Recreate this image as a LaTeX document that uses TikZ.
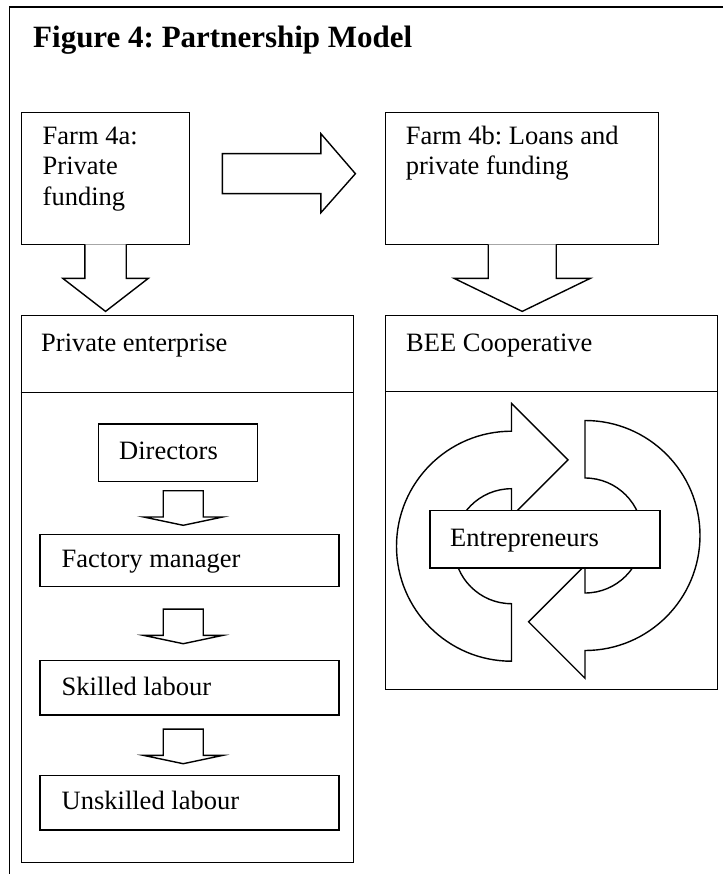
\documentclass[tikz,border=0pt]{standalone}
\usepackage{fontspec}
\setmainfont{Liberation Serif}
\frenchspacing
\usetikzlibrary{positioning, calc}

\tikzset{
  box/.style={draw, line width=1.4pt, fill=white, inner sep=0pt, anchor=north west},
  lbl/.style={inner sep=0pt, anchor=base west, align=left, font=\fontsize{26.5}{30.5}\selectfont},
  blockarrow/.style={draw, line width=1.4pt, fill=white, line join=miter},
}

\begin{document}
\begin{tikzpicture}[x=1pt, y=-1pt]
\useasboundingbox (0,0) rectangle (723,874);
% frame and title
\draw[line width=1.4pt] (723,7) -- (9.3,7) -- (9.3,874);
\node[inner sep=0pt, anchor=base west, font=\fontsize{31}{36}\selectfont\bfseries] (title) at (33,48) {Figure 4: Partnership Model};

% farms
\node[box, minimum width=168.3pt, minimum height=132.3pt] (farmA) at (20.7,111.7) {};
\node[box, minimum width=273pt, minimum height=132.3pt] (farmB) at (385,111.7) {};
% base of a multi-line label is its last line
\node[lbl] (farmAtxt) at (42.5,205.3) {Farm 4a:\\Private\\funding};
\node[lbl] (farmBtxt) at (405.7,174.8) {Farm 4b: Loans and\\private funding};

% the two enterprises
\node[box, minimum width=332pt, minimum height=546.7pt] (priv) at (20.7,315) {};
\node[box, minimum width=332pt, minimum height=374pt] (bee) at (385,315) {};
\draw[line width=1.4pt] ([yshift=-77.7pt]priv.north west) -- ([yshift=-77.7pt]priv.north east);
\draw[line width=1.4pt] ([yshift=-76.7pt]bee.north west) -- ([yshift=-76.7pt]bee.north east);
\node[lbl] (privtxt) at (41,351.7) {Private enterprise};
\node[lbl] (beetxt) at (406,351.7) {BEE Cooperative};

% block arrows between the farms
\draw[blockarrow] ([xshift=32pt, yshift=24.85pt]farmA.east) -- ++(98.5,0) -- ++(0,-20) -- ++(34.5,40)
  -- ++(-34.5,39) -- ++(0,-19) -- ++(-98.5,0) -- cycle;
\draw[blockarrow] ([xshift=-20.7pt, yshift=1pt]farmA.south) -- ++(0,34) -- ++(-22,0) -- ++(42.7,33)
  -- ++(42.7,-33) -- ++(-22,0) -- ++(0,-34);
\draw[blockarrow] ([xshift=-34pt, yshift=1pt]farmB.south) -- ++(0,34) -- ++(-34,0) -- ++(68,33)
  -- ++(68,-33) -- ++(-34,0) -- ++(0,-34);

% hierarchy
\node[box, minimum width=159pt, minimum height=57.7pt] (dirs) at (97.7,423.3) {};
\node[box, minimum width=299pt, minimum height=52pt] (fact) at (39.3,534) {};
\node[box, minimum width=299pt, minimum height=54.3pt] (skill) at (39.3,660) {};
\node[box, minimum width=299pt, minimum height=54.3pt] (unsk) at (39.3,775) {};
\node[lbl] (dirstxt) at (119,459.3) {Directors};
\node[lbl] (facttxt) at (61.5,567.3) {Factory manager};
\node[lbl] (skilltxt) at (61.5,695) {Skilled labour};
\node[lbl] (unsktxt) at (61.5,809.3) {Unskilled labour};
\foreach \up/\gap in {dirs/8.3, fact/21.7, skill/13.4}
  \draw[blockarrow] ($(\up.south -| fact.south)+(-26.3,\gap)$) -- ++(0,26.3) -- ++(-19.5,0) -- ++(39.5,8.3)
    -- ++(39.5,-8.3) -- ++(-19.5,0) -- ++(0,-26.3) -- cycle;

% cycle of the cooperative
\coordinate (cA) at (511.5,546.2);
\coordinate (cB) at (585,535.5);
\draw[blockarrow] ($(cA)+(0,-115)$) arc[start angle=270, end angle=90, radius=115] -- ++(0,-57.5)
  arc[start angle=90, end angle=270, radius=57.5] -- ++(0,27.75) -- ++(56.5,-56.5) -- ++(-56.5,-56.5) -- cycle;
\draw[blockarrow] ($(cB)+(0,115)$) arc[start angle=90, end angle=-90, radius=115] -- ++(0,57.5)
  arc[start angle=-90, end angle=90, radius=57.5] -- ++(0,-27.75) -- ++(-56.5,56.5) -- ++(56.5,56.5) -- cycle;
\node[box, minimum width=230pt, minimum height=57.3pt] (entre) at (429.3,510) {};
\node[lbl] (entretxt) at (450,546.7) {Entrepreneurs};

\end{tikzpicture}
\end{document}
